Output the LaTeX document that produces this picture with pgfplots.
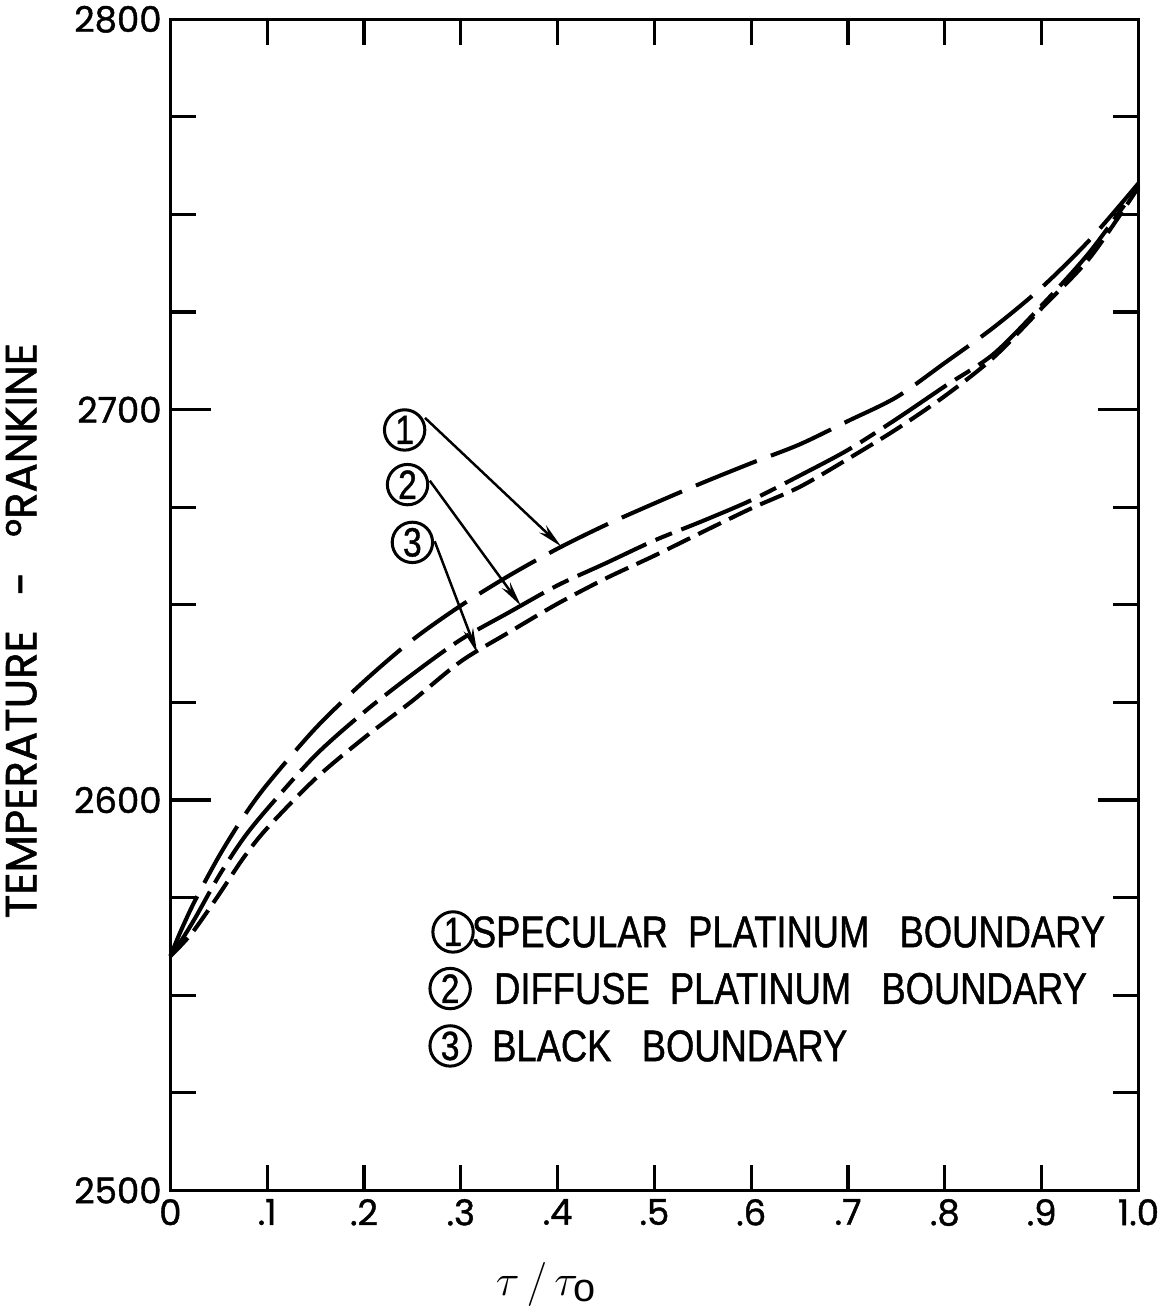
\documentclass[border=0pt]{standalone}
\usepackage{pgfplots}
\pgfplotsset{compat=1.18}
\usepackage{pgfplotstable}
\usepackage{fontspec}
\setmainfont{Liberation Sans}
\newfontfamily\geo{Poppins}[FakeBold=1.2]
\newfontfamily\narrow{Liberation Sans}[FakeStretch=0.82,FakeBold=1.0]
\usetikzlibrary{arrows.meta}

% temperature vs optical depth, three boundary conditions
\pgfplotstableread{
x      c1      c2      c3
0.000  2560.0  2560.0  2560.0
0.010  2566.0  2563.5  2562.5
0.025  2574.0  2569.5  2566.8
0.050  2585.5  2580.5  2575.7
0.075  2595.5  2590.0  2585.0
0.100  2604.0  2597.7  2592.8
0.150  2618.4  2611.5  2605.5
0.200  2630.4  2622.5  2615.9
0.250  2641.0  2632.2  2625.4
0.300  2649.8  2641.1  2635.5
0.350  2657.5  2648.1  2643.0
0.400  2664.4  2655.0  2650.3
0.450  2670.5  2660.7  2656.8
0.500  2676.0  2666.5  2662.6
0.550  2681.3  2671.5  2668.7
0.600  2686.3  2676.8  2674.7
0.650  2691.1  2683.1  2680.2
0.700  2697.1  2689.7  2687.4
0.750  2703.2  2697.6  2695.0
0.800  2712.0  2706.0  2703.5
0.850  2721.0  2714.2  2713.3
0.900  2731.3  2726.7  2726.0
0.950  2743.6  2740.5  2739.0
1.000  2758.0  2757.5  2757.0
}\temps

\begin{document}
\begin{tikzpicture}
\begin{axis}[
  scale only axis, width=19.18cm, height=23.2cm,
  xmin=0, xmax=1, ymin=2500, ymax=2800,
  xtick={0,0.1,0.2,0.3,0.4,0.5,0.6,0.7,0.8,0.9,1.0},
  xticklabels={0,.1,.2,.3,.4,.5,.6,.7,.8,.9,1.0},
  ytick={2500,2600,2700,2800},
  yticklabels={2500,2600,2700,2800},
  minor ytick={2525,2550,2575,2625,2650,2675,2725,2750,2775},
  tick align=inside,
  major tick length=0.8cm, minor tick length=0.5cm,
  xtick style={/pgfplots/major tick length=0.5cm},
  tick style={black, line width=1.8pt},
  axis line style={line width=2pt},
  tick label style={font=\geo\fontsize{20}{20}\selectfont},
  yticklabel style={xshift=-0.05cm},
  xticklabel style={yshift=-0.05cm},
  ylabel={TEMPERATURE \ \ - \ \ °RANKINE},
  every axis y label/.style={at={(axis description cs:-0.154,0.478)},
    rotate=90, anchor=center, font=\geo\fontsize{24.5}{24.5}\selectfont},
  xlabel={$\tau\,/\,\tau_{\mathrm{o}}$},
  every axis x label/.style={at={(axis description cs:0.388,-0.080)},
    anchor=center, font=\fontsize{32}{32}\selectfont},
  clip=false,
]
\addplot[smooth, tension=0.5, line width=2.3pt,
  dash pattern=on 1.3cm off 0.3cm]
  table[x=x, y=c1] {\temps};
\addplot[smooth, tension=0.5, line width=2.3pt,
  dash pattern=on 1.5cm off 0.2cm on 0.35cm off 0.2cm]
  table[x=x, y=c2] {\temps};
\addplot[smooth, tension=0.5, line width=2.3pt,
  dash pattern=on 0.5cm off 0.18cm]
  table[x=x, y=c3] {\temps};

% callouts
\tikzset{cn/.style={circle, draw, line width=1.7pt, minimum size=0.8cm,
  inner sep=0pt, font=\narrow\fontsize{23}{23}\selectfont},
  pt/.style={line width=1.4pt, -{Stealth[length=0.5cm,width=0.2cm]}}}
\node[cn] at (axis cs:0.242,2694.8) {1};
\node[cn] at (axis cs:0.245,2680.8) {2};
\node[cn] at (axis cs:0.250,2666.0) {3};
\draw[pt] (axis cs:0.263,2697.9) -- (axis cs:0.4035,2665.0);
\draw[pt] (axis cs:0.268,2681.8) -- (axis cs:0.362,2649.8);
\draw[pt] (axis cs:0.273,2666.3) -- (axis cs:0.317,2637.6);

% key
\tikzset{lt/.style={anchor=west, font=\narrow\fontsize{25}{25}\selectfont}}
\node[cn] at (axis cs:0.292,2566.2) {1};
\node[cn] at (axis cs:0.289,2551.7) {2};
\node[cn] at (axis cs:0.289,2537.0) {3};
\node[lt] at (axis cs:0.305,2566.2) {SPECULAR \ PLATINUM \ \ BOUNDARY};
\node[lt] at (axis cs:0.328,2551.7) {DIFFUSE \ PLATINUM \ \ BOUNDARY};
\node[lt] at (axis cs:0.326,2537.0) {BLACK \ \ BOUNDARY};
\end{axis}
\end{tikzpicture}
\end{document}
